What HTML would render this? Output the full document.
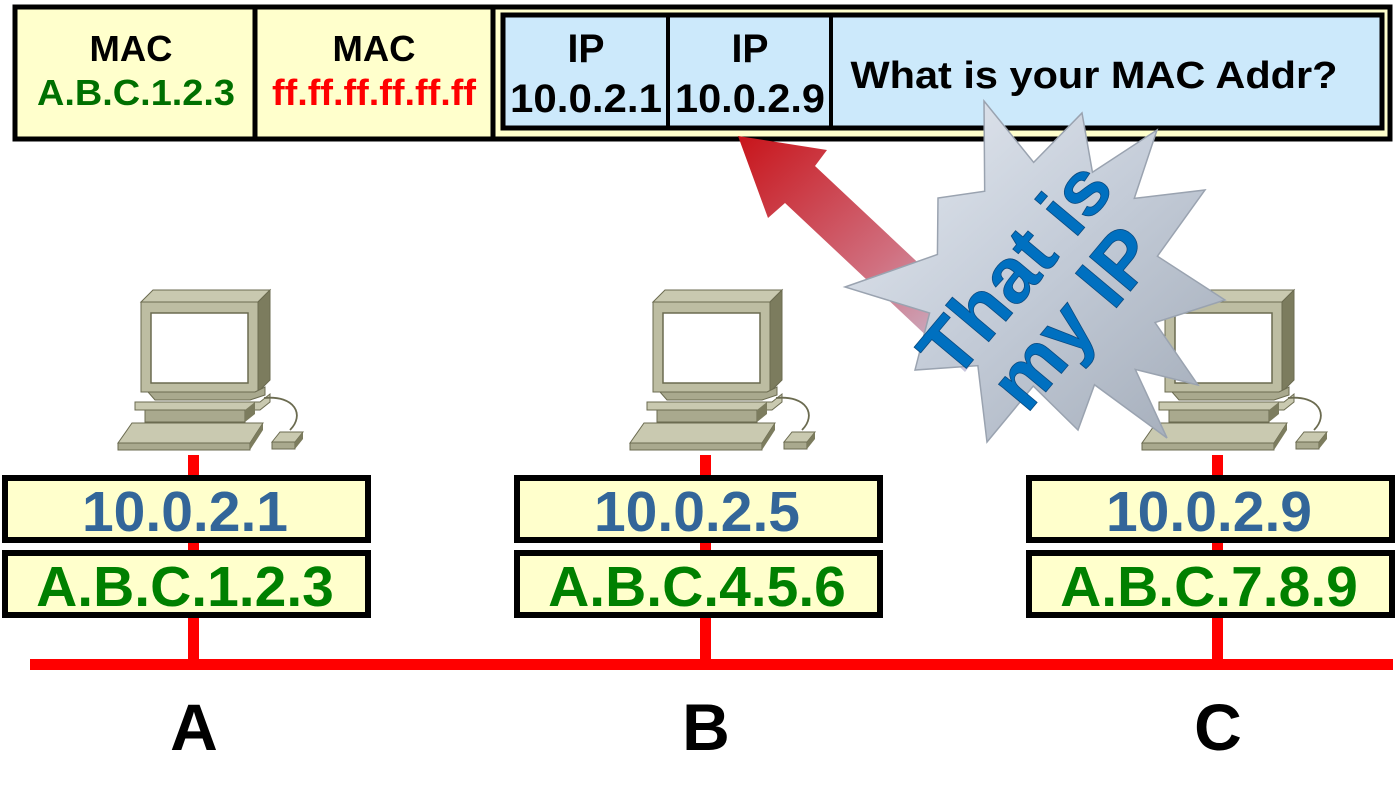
<!DOCTYPE html>
<html><head><meta charset="utf-8"><style>
html,body{margin:0;padding:0;background:#fff;}
svg{display:block;}
text{font-family:"Liberation Sans",Arial,sans-serif;font-weight:bold;}
</style></head><body>
<svg id="s" width="1400" height="812" viewBox="0 0 1400 812" xmlns="http://www.w3.org/2000/svg">
<defs>
<linearGradient id="ag" x1="0" y1="0" x2="1" y2="1">
<stop offset="0" stop-color="#c8141a"/><stop offset="0.55" stop-color="#d07080"/><stop offset="1" stop-color="#c8d4ec"/>
</linearGradient>
<linearGradient id="sg" x1="0" y1="0" x2="1" y2="1">
<stop offset="0" stop-color="#e6ebf2"/><stop offset="0.5" stop-color="#c4ccd8"/><stop offset="1" stop-color="#a2abb8"/>
</linearGradient>
<g id="pc">
<polygon points="41,22 53,10 170,10 158,22" fill="#c9c9b0" stroke="#6b6b50" stroke-width="1"/>
<polygon points="158,22 170,10 170,100 158,112" fill="#7c7c5e" stroke="#6b6b50" stroke-width="1"/>
<rect x="41" y="22" width="117" height="90" fill="#bdbda2" stroke="#6b6b50" stroke-width="1"/>
<rect x="51" y="33" width="97" height="70" fill="#fff" stroke="#6b6b50" stroke-width="1.5"/>
<polygon points="48,112 155,112 165,107 165,115 150,120 55,120" fill="#a9a98e" stroke="#6b6b50" stroke-width="1"/>
<polygon points="35,122 160,122 170,114 170,122 160,130 35,130" fill="#c9c9b0" stroke="#6b6b50" stroke-width="1"/>
<rect x="45" y="130" width="100" height="12" fill="#a9a98e" stroke="#6b6b50" stroke-width="1"/>
<polygon points="145,130 155,122 155,134 145,142" fill="#7c7c5e"/>
<polygon points="18,163 32,143 163,143 150,163" fill="#c9c9b0" stroke="#6b6b50" stroke-width="1"/>
<polygon points="18,163 150,163 150,170 18,170" fill="#a9a98e" stroke="#6b6b50" stroke-width="1"/>
<polygon points="150,163 163,143 163,150 150,170" fill="#7c7c5e"/>
<path d="M164,118 C195,115 205,135 190,150" fill="none" stroke="#6b6b50" stroke-width="1.8"/>
<polygon points="172,162 180,152 203,152 195,162" fill="#c9c9b0" stroke="#6b6b50" stroke-width="1"/>
<polygon points="172,162 195,162 195,169 172,169" fill="#a9a98e" stroke="#6b6b50" stroke-width="1"/>
<polygon points="195,162 203,152 203,159 195,169" fill="#7c7c5e"/>
</g>
</defs>

<g>
<rect x="15" y="7" width="1375" height="132" fill="#ffffcc" stroke="#000" stroke-width="5"/>
<line x1="255" y1="7" x2="255" y2="139" stroke="#000" stroke-width="5"/>
<line x1="493" y1="7" x2="493" y2="139" stroke="#000" stroke-width="5"/>
<rect x="503" y="15" width="879" height="113" fill="#cce9fb" stroke="#000" stroke-width="5"/>
<line x1="668" y1="15" x2="668" y2="128" stroke="#000" stroke-width="4"/>
<line x1="831" y1="15" x2="831" y2="128" stroke="#000" stroke-width="4"/>
<text x="131" y="61" font-size="36" textLength="83" lengthAdjust="spacingAndGlyphs" text-anchor="middle" fill="#000">MAC</text>
<text x="136" y="105" font-size="36" textLength="198" lengthAdjust="spacingAndGlyphs" text-anchor="middle" fill="#007000">A.B.C.1.2.3</text>
<text x="374" y="61" font-size="36" textLength="83" lengthAdjust="spacingAndGlyphs" text-anchor="middle" fill="#000">MAC</text>
<text x="374" y="105" font-size="36" textLength="204" lengthAdjust="spacingAndGlyphs" text-anchor="middle" fill="#ff0000">ff.ff.ff.ff.ff.ff</text>
<text x="586" y="62" font-size="40" textLength="37" lengthAdjust="spacingAndGlyphs" text-anchor="middle" fill="#000">IP</text>
<text x="586" y="112" font-size="40" textLength="152" lengthAdjust="spacingAndGlyphs" text-anchor="middle" fill="#000">10.0.2.1</text>
<text x="750" y="62" font-size="40" textLength="37" lengthAdjust="spacingAndGlyphs" text-anchor="middle" fill="#000">IP</text>
<text x="750" y="112" font-size="40" textLength="150" lengthAdjust="spacingAndGlyphs" text-anchor="middle" fill="#000">10.0.2.9</text>
<text x="1094" y="88" font-size="38" textLength="487" lengthAdjust="spacingAndGlyphs" text-anchor="middle" fill="#000">What is your MAC Addr?</text>
</g>

<rect x="30" y="659" width="1363" height="11" fill="#ff0000"/>

<g id="hosts"></g>

<polygon points="738,136 827,150 815,166 995,335 965,372 785,203 768,218" fill="url(#ag)"/>

<polygon id="star" fill="url(#sg)" stroke="#9aa3b0" stroke-width="1.5"/>
<g transform="translate(1040,290) rotate(-50)">
<text x="0" y="-6" font-size="78" text-anchor="middle" fill="#0070c0" stroke="#0a4a80" stroke-width="0.8">That is</text>
<text x="0" y="70" font-size="78" text-anchor="middle" fill="#0070c0" stroke="#0a4a80" stroke-width="0.8">my IP</text>
</g>
</svg>
<script>
const hostNames=['A','B','C'];
const hostIPs=['10.0.2.1','10.0.2.5','10.0.2.9'];
const hostMACs=['A.B.C.1.2.3','A.B.C.4.5.6','A.B.C.7.8.9'];
const NS='http://www.w3.org/2000/svg';
const g=document.getElementById('hosts');
function mk(tag,attrs,parent){const e=document.createElementNS(NS,tag);for(const k in attrs)e.setAttribute(k,attrs[k]);parent.appendChild(e);return e;}
hostNames.forEach((n,i)=>{
  const cx=194+i*512;
  const hg=mk('g',{},g);
  
  
  const ln=mk('rect',{x:cx-6,y:455,width:11,height:210,fill:'#ff0000'},hg);
  
  
  const pc=mk('use',{href:'#pc',transform:'translate('+(cx-94)+',280)'},hg);
  
  
  const b1=mk('rect',{x:cx-189,y:478,width:363,height:62,fill:'#ffffcc',stroke:'#000','stroke-width':6},hg);
  
  
  const t1=mk('text',{x:cx-9,y:531,'font-size':57,'text-anchor':'middle',fill:'#336699'},hg);
  t1.textContent=hostIPs[i];
  
  
  const b2=mk('rect',{x:cx-189,y:553,width:363,height:62,fill:'#ffffcc',stroke:'#000','stroke-width':6},hg);
  
  
  const t2=mk('text',{x:cx-9,y:606,'font-size':57,'text-anchor':'middle',fill:'#008000'},hg);
  t2.textContent=hostMACs[i];
  
  
  const t3=mk('text',{x:cx,y:750,'font-size':66,'text-anchor':'middle',fill:'#000'},hg);
  t3.textContent=n;
  
  
});
const outer=[[984,101],[1082,113],[1157,130],[1205,190],[1225,300],[1198,385],[1167,438],[1078,430],[987,442],[915,370],[845,287],[938,198]];
const c=[1035,280];
let pts=[];
for(let i=0;i<outer.length;i++){
  const a=outer[i],b=outer[(i+1)%outer.length];
  pts.push(a);
  const m=[(a[0]+b[0])/2,(a[1]+b[1])/2];
  pts.push([c[0]+(m[0]-c[0])*0.68,c[1]+(m[1]-c[1])*0.68]);
}
document.getElementById('star').setAttribute('points',pts.map(p=>p.join(',')).join(' '));
</script>
</body></html>
